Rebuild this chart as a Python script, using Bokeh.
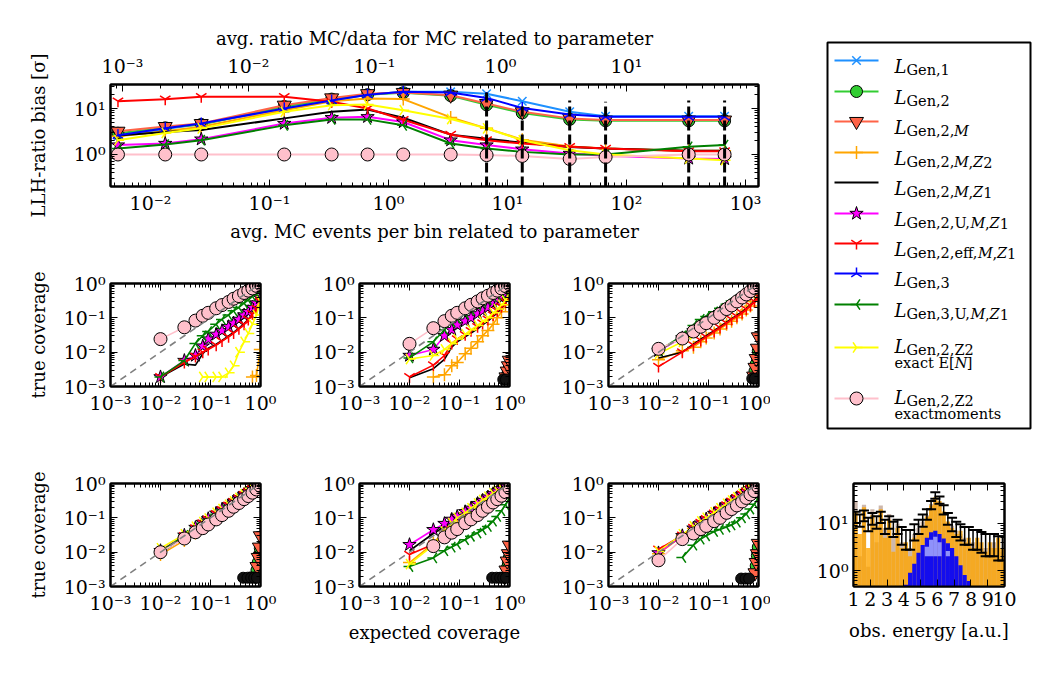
import numpy as np
from bokeh.core.properties import value
from bokeh.embed import file_html
from bokeh.layouts import column, row
from bokeh.models import (ColumnDataSource, CustomJSTickFormatter, FixedTicker,
                          LinearAxis, LogAxis, LogScale, Range1d)
from bokeh.plotting import figure
from bokeh.resources import INLINE

FONT = "DejaVu Serif"

# ---------------- LLH-ratio bias versus MC statistics ----------------
MC_PER_BIN = [0.00533, 0.0133, 0.0267, 0.133, 0.333, 0.667, 1.33, 3.33, 6.67, 13.3, 33.3, 66.7, 333.0, 667.0]
BIAS_GEN1 = [2.5, 3.6, 4.6, 10.0, 15.0, 20.0, 23.0, 23.0, 21.0, 14.4, 8.5, 6.8, 6.8, 6.8]
BIAS_GEN2 = [2.9, 3.8, 4.5, 11.0, 16.0, 20.0, 22.0, 19.0, 12.0, 8.0, 5.8, 5.4, 5.4, 5.4]
BIAS_GEN2_M = [3.2, 4.05, 4.7, 11.8, 17.0, 21.0, 22.3, 19.5, 12.8, 8.5, 6.1, 5.6, 5.6, 5.6]
BIAS_GEN2_M_Z2 = [2.5, 3.2, 4.0, 9.2, 14.4, 16.5, 16.0, 6.4, 3.7, 2.1, 1.5, 1.35, 1.2, 1.2]
BIAS_GEN2_M_Z1 = [2.6, 3.1, 3.4, 6.1, 8.5, 9.5, 6.3, 2.7, 2.2, 1.8, 1.45, 1.35, 1.2, 1.2]
BIAS_GEN2_U_M_Z1 = [1.6, 1.73, 2.15, 4.7, 6.3, 6.6, 5.1, 2.05, 1.6, 1.3, 1.05, 0.94, 0.82, 0.8]
BIAS_GEN2_EFF = [14.4, 15.9, 18.0, 18.0, 14.0, 10.0, 5.7, 2.7, 2.05, 1.73, 1.47, 1.35, 1.18, 1.18]
BIAS_GEN3 = [2.63, 3.7, 4.7, 10.0, 15.0, 20.0, 23.0, 22.3, 17.0, 10.3, 7.4, 6.6, 6.6, 6.6]
BIAS_GEN3_U_M_Z1 = [1.35, 1.65, 2.05, 4.3, 5.8, 5.8, 4.3, 1.73, 1.35, 1.14, 1.0, 1.0, 1.47, 1.6]
BIAS_GEN2_Z2_EXACT = [2.05, 2.95, 3.7, 8.5, 11.8, 12.2, 9.2, 5.9, 3.7, 2.05, 1.24, 1.0, 0.82, 0.75]
BIAS_GEN2_Z2_MOMENTS = [1.0, 1.0, 1.0, 1.0, 1.0, 1.0, 1.0, 1.0, 0.97, 0.93, 0.8, 0.88, 1.0, 1.0]
BIAS_ERR_X = [6.67, 13.3, 33.3, 66.7, 333.0, 667.0]
BIAS_ERR_HI = [23.0, 11.6, 15.0, 14.0, 15.0, 15.0]
BIAS_ERR_LO = [0.1, 0.1, 0.1, 0.1, 0.1, 0.1]

# ---------------- coverage panels ----------------
COV_X = [0.01, 0.03, 0.05, 0.07, 0.09, 0.13, 0.17, 0.23, 0.29, 0.37, 0.47, 0.57, 0.69, 0.83, 0.99]
STACK_X = [0.8, 0.85, 0.9, 0.95, 0.99]
STACK_DARK_X = [0.45, 0.55, 0.65, 0.75, 0.85]

C1_ORANGE = [None, None, None, None, None, None, None, None, None, None, None, None, 0.0019, 0.0021, 0.012]
C1_BLACK = [0.0019, 0.0045, 0.0042, 0.009, 0.013, 0.017, 0.022, 0.03, 0.038, 0.05, 0.068, 0.09, 0.13, 0.19, 0.3]
C1_MAGENTA = [0.0019, 0.0057, 0.008, 0.015, 0.024, 0.033, 0.042, 0.055, 0.07, 0.09, 0.12, 0.15, 0.2, 0.27, 0.38]
C1_RED = [0.0019, 0.005, 0.0075, 0.01, 0.012, 0.016, 0.021, 0.028, 0.036, 0.048, 0.065, 0.09, 0.13, 0.19, 0.3]
C1_GREEN = [0.0019, 0.0057, 0.018, 0.03, 0.04, 0.065, 0.09, 0.12, 0.16, 0.2, 0.27, 0.33, 0.42, 0.5, 0.58]
C1_YELLOW = [None, None, None, 0.0019, 0.0019, 0.0019, 0.0019, 0.0025, 0.004, 0.01, 0.02, 0.035, 0.065, 0.12, 0.3]
C1_PINK = [0.024, 0.053, 0.083, 0.115, 0.14, 0.19, 0.235, 0.29, 0.36, 0.43, 0.53, 0.62, 0.72, 0.85, 0.97]

C2_ORANGE = [None, 0.0019, 0.0022, 0.004, 0.005, 0.009, 0.013, 0.02, 0.03, 0.043, 0.065, 0.1, 0.15, 0.24, 0.45]
C2_BLACK = [0.0018, 0.0033, 0.0062, 0.014, 0.02, 0.028, 0.036, 0.048, 0.062, 0.08, 0.11, 0.14, 0.19, 0.27, 0.43]
C2_MAGENTA = [0.008, 0.012, 0.03, 0.045, 0.062, 0.08, 0.1, 0.13, 0.16, 0.2, 0.26, 0.31, 0.38, 0.45, 0.55]
C2_RED = [0.0019, 0.0042, 0.008, 0.018, 0.024, 0.032, 0.042, 0.055, 0.07, 0.09, 0.12, 0.16, 0.21, 0.29, 0.45]
C2_GREEN = [0.0068, 0.02, 0.045, 0.075, 0.095, 0.13, 0.17, 0.23, 0.28, 0.34, 0.41, 0.47, 0.53, 0.58, 0.62]
C2_YELLOW = [0.0063, 0.008, 0.012, 0.018, 0.024, 0.033, 0.045, 0.06, 0.08, 0.1, 0.14, 0.18, 0.24, 0.32, 0.5]
C2_PINK = [0.0175, 0.05, 0.08, 0.115, 0.14, 0.19, 0.24, 0.3, 0.37, 0.44, 0.53, 0.62, 0.72, 0.84, 0.96]
C2_STACK_TRI = [None, 0.0019, 0.0028, 0.004, 0.0058]
C2_STACK_GEN2 = [None, None, 0.0021, 0.0028, 0.0035]
C2_STACK_DARK = [None, None, None, 0.0016, 0.0016]

C3_ORANGE = [0.006, 0.011, 0.014, 0.02, 0.026, 0.036, 0.047, 0.065, 0.08, 0.1, 0.13, 0.17, 0.22, 0.3, 0.45]
C3_BLACK = [0.0068, 0.01, 0.017, 0.024, 0.03, 0.042, 0.055, 0.075, 0.095, 0.12, 0.15, 0.19, 0.24, 0.32, 0.45]
C3_MAGENTA = [0.011, 0.026, 0.042, 0.058, 0.075, 0.105, 0.14, 0.19, 0.24, 0.31, 0.4, 0.49, 0.6, 0.73, 0.9]
C3_RED = [0.0038, 0.01, 0.016, 0.022, 0.028, 0.04, 0.052, 0.07, 0.09, 0.11, 0.14, 0.18, 0.23, 0.3, 0.42]
C3_GREEN = [0.011, 0.03, 0.06, 0.09, 0.11, 0.15, 0.19, 0.25, 0.31, 0.38, 0.47, 0.56, 0.66, 0.78, 0.93]
C3_YELLOW = [0.009, 0.02, 0.032, 0.045, 0.058, 0.085, 0.11, 0.15, 0.19, 0.25, 0.32, 0.4, 0.5, 0.62, 0.78]
C3_PINK = [0.0125, 0.025, 0.04, 0.055, 0.07, 0.1, 0.13, 0.18, 0.23, 0.3, 0.39, 0.48, 0.6, 0.74, 0.93]
C3_STACK_TRI = [0.002, 0.0036, 0.0065, 0.013, 0.028]
C3_STACK_GEN2 = [None, 0.0028, 0.0045, 0.007, 0.011]
C3_STACK_DARK = [None, None, None, 0.0017, 0.0017]

C4_ORANGE = [0.0085, 0.022, 0.036, 0.05, 0.064, 0.093, 0.12, 0.165, 0.21, 0.27, 0.35, 0.43, 0.53, 0.65, 0.8]
C4_BLACK = [0.0095, 0.027, 0.045, 0.063, 0.081, 0.117, 0.153, 0.207, 0.26, 0.33, 0.42, 0.51, 0.62, 0.75, 0.9]
C4_MAGENTA = [0.011, 0.031, 0.052, 0.073, 0.094, 0.135, 0.176, 0.237, 0.3, 0.38, 0.48, 0.58, 0.7, 0.84, 1.0]
C4_RED = [0.0105, 0.03, 0.05, 0.07, 0.09, 0.13, 0.17, 0.23, 0.29, 0.37, 0.47, 0.57, 0.69, 0.83, 0.98]
C4_GREEN = [0.0105, 0.031, 0.05, 0.069, 0.089, 0.128, 0.168, 0.226, 0.285, 0.36, 0.46, 0.56, 0.67, 0.81, 0.96]
C4_YELLOW = [0.013, 0.033, 0.055, 0.075, 0.095, 0.14, 0.18, 0.24, 0.3, 0.38, 0.48, 0.58, 0.7, 0.84, 1.0]
C4_PINK = [0.01, 0.025, 0.038, 0.05, 0.064, 0.09, 0.12, 0.16, 0.21, 0.27, 0.35, 0.43, 0.54, 0.67, 0.85]
C4_STACK_TRI = [0.002, 0.0038, 0.007, 0.014, 0.03]
C4_STACK_GEN2 = [None, 0.003, 0.005, 0.0085, 0.013]
C4_STACK_DARK = [0.0018, 0.0018, 0.0018, 0.0018, 0.0018]

C5_ORANGE = [0.005, 0.018, 0.042, 0.07, 0.1, 0.14, 0.19, 0.26, 0.33, 0.41, 0.52, 0.62, 0.73, 0.86, 1.0]
C5_BLACK = [0.011, 0.035, 0.055, 0.075, 0.095, 0.135, 0.175, 0.235, 0.3, 0.38, 0.48, 0.58, 0.7, 0.84, 1.0]
C5_MAGENTA = [0.0165, 0.045, 0.068, 0.09, 0.11, 0.15, 0.19, 0.26, 0.32, 0.4, 0.5, 0.6, 0.7, 0.83, 0.98]
C5_RED = [0.0085, 0.017, 0.03, 0.045, 0.06, 0.09, 0.12, 0.17, 0.22, 0.29, 0.37, 0.45, 0.55, 0.68, 0.85]
C5_GREEN = [0.0038, 0.0068, 0.011, 0.014, 0.017, 0.023, 0.029, 0.036, 0.045, 0.056, 0.08, 0.11, 0.16, 0.24, 0.37]
C5_YELLOW = [0.0045, 0.016, 0.04, 0.07, 0.1, 0.14, 0.19, 0.26, 0.33, 0.41, 0.52, 0.62, 0.73, 0.86, 1.0]
C5_PINK = [None, 0.015, 0.027, 0.037, 0.047, 0.07, 0.09, 0.12, 0.16, 0.21, 0.28, 0.35, 0.44, 0.56, 0.75]
C5_STACK_TRI = [0.0019, 0.003, 0.0055, 0.009, 0.016]
C5_STACK_GEN2 = [None, None, 0.0035, 0.005, 0.007]
C5_STACK_DARK = [0.0018, 0.0018, 0.0018, 0.0018, 0.0018]

C6_ORANGE = [0.009, 0.03, 0.05, 0.072, 0.093, 0.135, 0.178, 0.24, 0.305, 0.39, 0.49, 0.6, 0.72, 0.86, 1.0]
C6_BLACK = [0.01, 0.03, 0.05, 0.07, 0.09, 0.13, 0.17, 0.23, 0.29, 0.37, 0.47, 0.57, 0.69, 0.83, 0.99]
C6_MAGENTA = [0.0095, 0.03, 0.05, 0.07, 0.092, 0.133, 0.174, 0.236, 0.3, 0.38, 0.48, 0.58, 0.7, 0.84, 1.0]
C6_RED = [0.012, 0.031, 0.052, 0.073, 0.094, 0.135, 0.175, 0.237, 0.3, 0.38, 0.48, 0.58, 0.7, 0.84, 1.0]
C6_GREEN = [None, 0.007, 0.016, 0.024, 0.03, 0.04, 0.046, 0.054, 0.062, 0.075, 0.1, 0.13, 0.18, 0.25, 0.38]
C6_YELLOW = [0.0105, 0.033, 0.056, 0.079, 0.1, 0.145, 0.19, 0.255, 0.32, 0.4, 0.5, 0.61, 0.73, 0.87, 1.0]
C6_PINK = [0.0058, 0.024, 0.035, 0.047, 0.058, 0.08, 0.1, 0.14, 0.18, 0.23, 0.3, 0.38, 0.48, 0.6, 0.8]
C6_STACK_TRI = [None, 0.0025, 0.005, 0.009, 0.018]
C6_STACK_GEN2 = [None, None, 0.004, 0.008, 0.014]
C6_STACK_DARK = [0.0017, 0.0017, 0.0017, None, None]

# ---------------- observed energy histogram ----------------
HIST_RANGE = (1.0, 10.0)
HIST_TAN = [30, 2.0, 25, 1.2, 20, 4, 24, 8, 16, 5, 10, 4, 3, 3, 6, 8, 11, 15,
            26, 33, 28, 16, 10, 9, 7, 6, 5, 4, 4, 4, 3, 3, 3, 4, 3, 2.5]
HIST_ORANGE = [18, 6, 22, 3, 15, 9, 20, 5, 12, 2.5, 8, 3, 4, 2, 5, 6, 9, 14,
               24, 36, 30, 18, 11, 8, 6, 7, 4, 5, 3, 5, 4, 2.5, 4, 3, 5, 3]
HIST_BLUE = [0, 0, 0, 0, 0, 0, 0, 0, 0, 0, 0, 0, 0.5, 0.9, 1.4, 2.4, 3.5, 5.0,
             6.5, 7.0, 6.0, 4.8, 3.8, 3.0, 2.0, 1.3, 0.8, 0.6, 0, 0, 0, 0, 0, 0, 0, 0]
HIST_BLUE_PALE = [0, 0, 0, 0, 0, 0, 0, 0, 0, 0, 0, 0, 0, 0, 0, 0, 0, 3.2,
                  4.5, 5.2, 4.0, 0, 2.6, 0, 0, 0, 0, 0, 0, 0, 0, 0, 0, 0, 0, 0]
HIST_DATA = [14, 12, 15, 10, 13, 11, 14, 9, 11, 8, 9, 6, 5, 5, 7, 9, 12, 16,
             25, 40, 32, 20, 13, 10, 8, 7, 6, 6, 5, 5, 4.5, 4, 4, 4, 3.5, 3.5]

# ---------------- series appearance ----------------
# key: (line colour, marker, marker fill, marker size, marker angle)
STYLE = {
    "gen1": ("#1E90FF", "x", None, 12, 0.0),
    "gen2": ("#32CD32", "circle", "#32CD32", 12, 0.0),
    "gen2m": ("#FF6347", "inverted_triangle", "#FF6347", 14, 0.0),
    "gen2mz2": ("#FFA500", "cross", None, 13, 0.0),
    "gen2mz1": ("black", None, None, 0, 0.0),
    "gen2umz1": ("#FF00FF", "star", "#FF00FF", 14, 0.0),
    "gen2eff": ("red", "y", None, 12, 0.0),
    "gen3": ("blue", "y", None, 12, np.pi),
    "gen3umz1": ("green", "y", None, 12, -np.pi / 2),
    "gen2z2e": ("yellow", "y", None, 12, np.pi / 2),
    "gen2z2m": ("pink", "circle", "pink", 13, 0.0),
}

SUP = CustomJSTickFormatter(code="""
const m = {"-": "\u207b", "0": "\u2070", "1": "\u00b9", "2": "\u00b2", "3": "\u00b3",
           "4": "\u2074", "5": "\u2075", "6": "\u2076", "7": "\u2077", "8": "\u2078", "9": "\u2079"};
const e = Math.round(Math.log10(tick));
return "10" + String(e).split("").map(c => m[c]).join("");
""")


def log_ticker(lo, hi):
    majors = [10.0 ** e for e in range(lo, hi + 1)]
    minors = [k * 10.0 ** e for e in range(lo - 1, hi + 1) for k in range(2, 10)]
    return FixedTicker(ticks=majors, minor_ticks=minors)


def style_axis(ax, labels=True):
    ax.major_tick_in = 7
    ax.major_tick_out = 0
    ax.minor_tick_in = 4
    ax.minor_tick_out = 0
    ax.major_tick_line_color = "black"
    ax.minor_tick_line_color = "black"
    ax.axis_line_color = "black"
    ax.axis_line_width = 2
    ax.major_label_text_font = FONT
    if labels:
        ax.major_label_text_color = "black"
        ax.major_label_text_font_size = "19px"
    else:
        ax.major_label_text_color = None
        ax.major_label_text_font_size = "1px"
        ax.major_label_standoff = 0
    ax.axis_label_text_font = FONT
    ax.axis_label_text_font_size = "18px"
    ax.axis_label_text_font_style = "normal"
    ax.axis_label_text_color = "black"


def base_style(p):
    p.grid.visible = False
    p.outline_line_color = "black"
    p.outline_line_width = 2
    p.background_fill_color = "white"
    p.border_fill_color = "white"


def draw_markers(p, src, key):
    color, marker, fill, size, angle = STYLE[key]
    if marker is None:
        return
    if fill is not None:
        p.scatter("x", "y", source=src, marker=marker, size=size, fill_color=fill,
                  line_color="black", line_width=1)
    else:
        p.scatter("x", "y", source=src, marker=marker, size=size, angle=angle,
                  line_color=color, line_width=1.5)


def draw_series(p, xs, ys, key, lw=2.0):
    color = STYLE[key][0]
    src = ColumnDataSource(dict(x=np.array(xs, dtype=float), y=np.array(ys, dtype=float)))
    p.line("x", "y", source=src, line_color=color, line_width=lw)
    draw_markers(p, src, key)


# ---------------- top panel ----------------
top = figure(width=770, height=250, x_axis_type="log", y_axis_type="log",
             x_range=Range1d(10 ** -2.336, 10 ** 3.109), y_range=Range1d(10 ** -0.696, 10 ** 1.522),
             min_border_left=110, min_border_right=12, min_border_top=84, min_border_bottom=64,
             output_backend="svg", toolbar_location=None)
base_style(top)
top.extra_x_ranges = {"ratio": Range1d(10 ** -3.095, 10 ** 2.048)}
top.extra_x_scales = {"ratio": LogScale()}

bx = top.xaxis[0]
bx.ticker = log_ticker(-2, 3)
bx.formatter = SUP
bx.axis_label = "avg. MC events per bin related to parameter"
style_axis(bx)
bx.axis_label_standoff = 4
ly = top.yaxis[0]
ly.ticker = log_ticker(0, 1)
ly.formatter = SUP
ly.axis_label = "LLH-ratio bias [σ]"
style_axis(ly)
ly.axis_label_standoff = 22
ax_top = LogAxis(x_range_name="ratio", ticker=log_ticker(-3, 1), formatter=SUP,
                 axis_label="avg. ratio MC/data for MC related to parameter")
style_axis(ax_top)
ax_top.major_label_standoff = 8
ax_top.axis_label_standoff = 3
top.add_layout(ax_top, "above")
ax_r = LogAxis(ticker=log_ticker(0, 1))
style_axis(ax_r, labels=False)
top.add_layout(ax_r, "right")

bias_series = [
    ("gen1", BIAS_GEN1), ("gen2", BIAS_GEN2), ("gen2m", BIAS_GEN2_M),
    ("gen2mz2", BIAS_GEN2_M_Z2), ("gen2mz1", BIAS_GEN2_M_Z1), ("gen2umz1", BIAS_GEN2_U_M_Z1),
    ("gen2eff", BIAS_GEN2_EFF), ("gen3", BIAS_GEN3), ("gen3umz1", BIAS_GEN3_U_M_Z1),
    ("gen2z2e", BIAS_GEN2_Z2_EXACT), ("gen2z2m", BIAS_GEN2_Z2_MOMENTS),
]
for key, ys in bias_series:
    draw_series(top, MC_PER_BIN, ys, key)
top.segment(x0=BIAS_ERR_X, y0=BIAS_ERR_LO, x1=BIAS_ERR_X, y1=BIAS_ERR_HI,
            line_color="black", line_width=3, line_dash="10 4")


# ---------------- coverage panels ----------------
def coverage_panel(width, left, right, height, bottom, curves, stack=None, ylabel=None, xlabel=None):
    p = figure(width=width, height=height, x_axis_type="log", y_axis_type="log",
               x_range=Range1d(1e-3, 1.0), y_range=Range1d(1e-3, 1.0),
               min_border_left=left, min_border_right=right, min_border_top=33,
               min_border_bottom=bottom, output_backend="svg", toolbar_location=None)
    base_style(p)
    xa = p.xaxis[0]
    xa.ticker = log_ticker(-3, 0)
    xa.formatter = SUP
    style_axis(xa)
    ya = p.yaxis[0]
    ya.ticker = log_ticker(-3, 0)
    ya.formatter = SUP
    style_axis(ya)
    if ylabel:
        ya.axis_label = ylabel
        ya.axis_label_standoff = 12
    if xlabel:
        xa.axis_label = xlabel
        xa.axis_label_standoff = 5
    for where in ("above", "right"):
        ax = LogAxis(ticker=log_ticker(-3, 0))
        style_axis(ax, labels=False)
        p.add_layout(ax, where)

    if stack is not None:
        tri, gen2, dark = stack
        draw_markers(p, ColumnDataSource(dict(x=STACK_X, y=np.array(gen2, dtype=float))), "gen2")
        draw_markers(p, ColumnDataSource(dict(x=STACK_X, y=np.array(tri, dtype=float))), "gen2m")
        p.scatter(x=STACK_DARK_X, y=np.array(dark, dtype=float), marker="circle", size=11,
                  fill_color="#111111", line_color="black")
    for key, ys in curves:
        draw_series(p, COV_X, ys, key, lw=1.6)
    p.line(x=[1e-3, 1.0], y=[1e-3, 1.0], line_color="gray", line_width=1.6, line_dash="7 5")
    return p


def curves(orange, black, magenta, red, green, yellow, pink):
    return [("gen2mz2", orange), ("gen2mz1", black), ("gen2umz1", magenta), ("gen2eff", red),
            ("gen3umz1", green), ("gen2z2e", yellow), ("gen2z2m", pink)]


c1 = coverage_panel(300, 110, 40, 200, 64,
                    curves(C1_ORANGE, C1_BLACK, C1_MAGENTA, C1_RED, C1_GREEN, C1_YELLOW, C1_PINK),
                    ylabel="true coverage")
c2 = coverage_panel(250, 59, 41, 200, 64,
                    curves(C2_ORANGE, C2_BLACK, C2_MAGENTA, C2_RED, C2_GREEN, C2_YELLOW, C2_PINK),
                    stack=(C2_STACK_TRI, C2_STACK_GEN2, C2_STACK_DARK))
c3 = coverage_panel(220, 58, 12, 200, 64,
                    curves(C3_ORANGE, C3_BLACK, C3_MAGENTA, C3_RED, C3_GREEN, C3_YELLOW, C3_PINK),
                    stack=(C3_STACK_TRI, C3_STACK_GEN2, C3_STACK_DARK))
c4 = coverage_panel(300, 110, 40, 225, 89,
                    curves(C4_ORANGE, C4_BLACK, C4_MAGENTA, C4_RED, C4_GREEN, C4_YELLOW, C4_PINK),
                    stack=(C4_STACK_TRI, C4_STACK_GEN2, C4_STACK_DARK), ylabel="true coverage")
c5 = coverage_panel(250, 59, 41, 225, 89,
                    curves(C5_ORANGE, C5_BLACK, C5_MAGENTA, C5_RED, C5_GREEN, C5_YELLOW, C5_PINK),
                    stack=(C5_STACK_TRI, C5_STACK_GEN2, C5_STACK_DARK), xlabel="expected coverage")
c6 = coverage_panel(220, 58, 12, 225, 89,
                    curves(C6_ORANGE, C6_BLACK, C6_MAGENTA, C6_RED, C6_GREEN, C6_YELLOW, C6_PINK),
                    stack=(C6_STACK_TRI, C6_STACK_GEN2, C6_STACK_DARK))

# ---------------- legend ----------------
leg = figure(width=280, height=450, x_range=Range1d(0, 280), y_range=Range1d(450, 0),
             x_axis_location=None, y_axis_location=None, min_border=0,
             output_backend="svg", toolbar_location=None)
leg.grid.visible = False
leg.outline_line_color = None
leg.quad(left=[57], right=[260], top=[42], bottom=[428], fill_color="white",
         line_color="black", line_width=2)

ADV = {"G": 0.776, "e": 0.592, "n": 0.644, ",": 0.318, "1": 0.636, "2": 0.636, "3": 0.636,
       "U": 0.82, "f": 0.371, "Z": 0.694, "M": 0.99, "N": 0.837, "x": 0.565, "a": 0.596,
       "c": 0.56, "t": 0.402, "m": 0.948, "o": 0.602, "s": 0.513, "E": 0.73, "[": 0.39,
       "]": 0.39, " ": 0.318}

LEGEND_SUBS = [
    [("Gen,1", False)],
    [("Gen,2", False)],
    [("Gen,2,", False), ("M", True)],
    [("Gen,2,", False), ("M", True), (",", False), ("Z", True), ("2", False)],
    [("Gen,2,", False), ("M", True), (",", False), ("Z", True), ("1", False)],
    [("Gen,2,U,", False), ("M", True), (",", False), ("Z", True), ("1", False)],
    [("Gen,2,eff,", False), ("M", True), (",", False), ("Z", True), ("1", False)],
    [("Gen,3", False)],
    [("Gen,3,U,", False), ("M", True), (",", False), ("Z", True), ("1", False)],
    [("Gen,2,Z2", False)],
    [("Gen,2,Z2", False)],
]
LEGEND_SECOND = {9: [("exact ", False), ("E[", False), ("N", True), ("]", False)],
                 10: [("exactmoments", False)]}
LEGEND_KEYS = ["gen1", "gen2", "gen2m", "gen2mz2", "gen2mz1", "gen2umz1", "gen2eff",
               "gen3", "gen3umz1", "gen2z2e", "gen2z2m"]
ROW_Y = [60, 91, 121, 152, 182, 213, 243, 273, 304, 347, 398]


def put_runs(p, x, y, runs, size):
    for txt, ital in runs:
        p.text(x=[x], y=[y], text=[txt], text_font=value(FONT), text_font_size=f"{size}px",
               text_font_style="italic" if ital else "normal", text_baseline="alphabetic",
               text_align="left", text_color="black")
        x += sum(ADV.get(ch, 0.6) for ch in txt) * size


for i, key in enumerate(LEGEND_KEYS):
    yl = ROW_Y[i]
    color = STYLE[key][0]
    leg.line(x=[64, 108], y=[yl, yl], line_color=color, line_width=2)
    draw_markers(leg, ColumnDataSource(dict(x=[86], y=[yl])), key)
    two = i in LEGEND_SECOND
    base = yl - 1 if two else yl + 6
    put_runs(leg, 124, base, [("L", True)], 18)
    put_runs(leg, 136, base + 3.5, LEGEND_SUBS[i], 14.5)
    if two:
        put_runs(leg, 124, base + 16, LEGEND_SECOND[i], 14.5)

# ---------------- histogram ----------------
hist = figure(width=280, height=225, y_axis_type="log",
              x_range=Range1d(*HIST_RANGE), y_range=Range1d(10 ** -0.34, 10 ** 1.85),
              min_border_left=83, min_border_right=46, min_border_top=33, min_border_bottom=89,
              output_backend="svg", toolbar_location=None)
base_style(hist)
hx = hist.xaxis[0]
hx.ticker = FixedTicker(ticks=list(range(1, 11)), minor_ticks=[])
hx.axis_label = "obs. energy [a.u.]"
style_axis(hx)
hx.axis_label_standoff = 11
hy = hist.yaxis[0]
hy.ticker = log_ticker(0, 1)
hy.formatter = SUP
style_axis(hy)
hxt = LinearAxis(ticker=FixedTicker(ticks=list(range(1, 11)), minor_ticks=[]))
style_axis(hxt, labels=False)
hist.add_layout(hxt, "above")
hyr = LogAxis(ticker=log_ticker(0, 1))
style_axis(hyr, labels=False)
hist.add_layout(hyr, "right")

edges = np.linspace(HIST_RANGE[0], HIST_RANGE[1], len(HIST_DATA) + 1)
lefts, rights = edges[:-1], edges[1:]
centers = 0.5 * (lefts + rights)


def hist_fill(vals, color, alpha, base=0.01):
    v = np.array(vals, dtype=float)
    m = v > 0
    hist.quad(left=lefts[m], right=rights[m], top=v[m], bottom=base,
              fill_color=color, fill_alpha=alpha, line_color=None)


hist_fill(HIST_TAN, "#B89A8A", 0.7)
hist_fill(HIST_ORANGE, "#FFA500", 0.8)
hist_fill(HIST_BLUE, "#0000FF", 0.92)
hist_fill(HIST_BLUE_PALE, "#B8BEFF", 0.75, base=2.0)
hd = np.array(HIST_DATA, dtype=float)
err = np.sqrt(hd)
hist.segment(x0=centers, y0=hd - err, x1=centers, y1=hd + err, line_color="black", line_width=1.5)
hist.scatter(x=centers, y=hd + err, marker="dash", size=10, line_color="black", line_width=2)
hist.scatter(x=centers, y=hd - err, marker="dash", size=10, line_color="black", line_width=2)

layout = column(
    row(column(top, row(c1, c2, c3)), leg),
    row(c4, c5, c6, hist),
)

open("out.html", "w").write(file_html(layout, INLINE))
